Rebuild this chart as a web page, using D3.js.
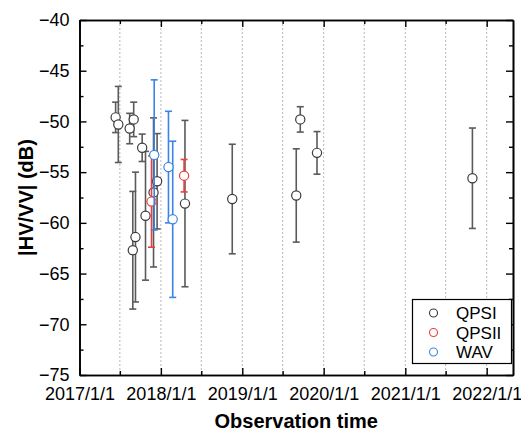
<!DOCTYPE html>
<html>
<head>
<meta charset="utf-8">
<script src="https://cdn.jsdelivr.net/npm/d3@7"></script>
<style>
    body { margin: 0; background: #fff; }
    svg { font-family: 'Liberation Sans', Arial, sans-serif; }
</style>
</head>
<body>
<svg width="521" height="432"></svg>
<script>

    // QPSI
    let qpsiDates  = ['2017-06-12', '2017-06-24', '2017-08-14', '2017-08-28', '2017-09-01', '2017-09-09',
                      '2017-10-09', '2017-10-24', '2017-11-29', '2017-12-15', '2018-04-19', '2018-11-17',
                      '2019-08-31', '2019-09-18', '2019-12-02', '2021-10-29'];
    let qpsiValues = [-49.6, -50.3, -50.7, -62.7, -49.8, -61.4, -52.6, -59.3, -57.0, -55.9, -58.1, -57.65,
                      -57.3, -49.8, -53.1, -55.6];
    let qpsiErrors = [1.5, 3.75, 1.5, 5.8, 1.7, 6.4, 1.35, 6.35, 7.35, 4.7, 8.2, 5.4, 4.6, 1.25, 2.1, 4.95];

    // QPSII
    let qpsiiDates  = ['2017-11-20', '2018-04-15'];
    let qpsiiValues = [-57.9, -55.35];
    let qpsiiErrors = [4.5, 1.6];

    // WAV
    let wavDates  = ['2017-12-02', '2018-02-04', '2018-02-23'];
    let wavValues = [-53.3, -54.5, -59.65];
    let wavErrors = [7.4, 5.5, 7.7];

    let yTicks = [-40, -45, -50, -55, -60, -65, -70, -75];
    let xTickLabels = ['2017-01-01', '2018-01-01', '2019-01-01', '2020-01-01', '2021-01-01', '2022-01-01'];


    let svg = d3.select('svg');
    let margin = { top: 20, right: 8, bottom: 57, left: 79.5 };
    let width = +svg.attr('width');
    let height = +svg.attr('height');

    let parse = d3.timeParse('%Y-%m-%d');

    let x = d3.scaleTime()
        .domain([parse('2017-01-01'), parse('2022-04-29')])
        .range([margin.left, width - margin.right]);

    let y = d3.scaleLinear()
        .domain([-75, -40])
        .range([height - margin.bottom, margin.top]);

    let series = [
        { name: 'QPSI',  dates: qpsiDates,  values: qpsiValues,  errors: qpsiErrors,  bar: '#5a5a5a', dot: '#3a3a3a' },
        { name: 'QPSII', dates: qpsiiDates, values: qpsiiValues, errors: qpsiiErrors, bar: '#e8413b', dot: '#e8413b' },
        { name: 'WAV',   dates: wavDates,   values: wavValues,   errors: wavErrors,   bar: '#3a84e6', dot: '#3a84e6' }
    ];

    // half-year dotted grid
    let halfYears = d3.timeMonth.every(6).range(parse('2017-06-30'), parse('2022-04-29'));
    svg.append('g')
        .selectAll('line')
        .data(halfYears)
        .enter().append('line')
        .attr('x1', d => x(d)).attr('x2', d => x(d))
        .attr('y1', y(-40)).attr('y2', y(-75))
        .attr('stroke', '#b8b8b8')
        .attr('stroke-width', 1)
        .attr('stroke-dasharray', '2,2');

    series.forEach(s => {
        let pts = s.dates.map((d, i) => ({ date: parse(d), v: s.values[i], e: s.errors[i] }));
        let g = svg.append('g');

        let bar = g.selectAll('g.bar')
            .data(pts)
            .enter().append('g')
            .attr('class', 'bar')
            .attr('stroke', s.bar)
            .attr('stroke-width', 1.6);

        bar.append('line')
            .attr('x1', d => x(d.date)).attr('x2', d => x(d.date))
            .attr('y1', d => y(d.v + d.e)).attr('y2', d => y(d.v - d.e));
        bar.append('line')
            .attr('x1', d => x(d.date) - 3.5).attr('x2', d => x(d.date) + 3.5)
            .attr('y1', d => y(d.v + d.e)).attr('y2', d => y(d.v + d.e));
        bar.append('line')
            .attr('x1', d => x(d.date) - 3.5).attr('x2', d => x(d.date) + 3.5)
            .attr('y1', d => y(d.v - d.e)).attr('y2', d => y(d.v - d.e));

        g.selectAll('circle')
            .data(pts)
            .enter().append('circle')
            .attr('cx', d => x(d.date))
            .attr('cy', d => y(d.v))
            .attr('r', 4.6)
            .attr('fill', '#fff')
            .attr('stroke', s.dot)
            .attr('stroke-width', 1.2);
    });

    // axes, ticks drawn inward on all four sides
    let xMajor = xTickLabels.map(parse);
    let xMinor = halfYears.filter(d => d.getMonth() === 6);
    let fmt = d3.timeFormat('%Y/%-m/%-d');

    svg.append('g')
        .attr('transform', 'translate(0,' + y(-75) + ')')
        .call(d3.axisBottom(x).tickValues(xMajor).tickFormat(fmt).tickSizeInner(-7).tickSizeOuter(0).tickPadding(12));
    svg.append('g')
        .attr('transform', 'translate(0,' + y(-75) + ')')
        .call(d3.axisBottom(x).tickValues(xMinor).tickFormat('').tickSizeInner(-4).tickSizeOuter(0));

    svg.append('g')
        .attr('transform', 'translate(0,' + y(-40) + ')')
        .call(d3.axisTop(x).tickValues(xMajor).tickFormat('').tickSizeInner(-7).tickSizeOuter(0));
    svg.append('g')
        .attr('transform', 'translate(0,' + y(-40) + ')')
        .call(d3.axisTop(x).tickValues(xMinor).tickFormat('').tickSizeInner(-4).tickSizeOuter(0));

    let minorY = d3.range(-72.5, -40, 5);

    svg.append('g')
        .attr('transform', 'translate(' + x.range()[0] + ',0)')
        .call(d3.axisLeft(y).tickValues(yTicks).tickFormat(d => d3.format('d')(d).replace('-', '\u2212'))
            .tickSizeInner(-7).tickSizeOuter(0).tickPadding(10));
    svg.append('g')
        .attr('transform', 'translate(' + x.range()[0] + ',0)')
        .call(d3.axisLeft(y).tickValues(minorY).tickFormat('').tickSizeInner(-4).tickSizeOuter(0));

    svg.append('g')
        .attr('transform', 'translate(' + x.range()[1] + ',0)')
        .call(d3.axisRight(y).tickValues(yTicks).tickFormat('').tickSizeInner(-7).tickSizeOuter(0));
    svg.append('g')
        .attr('transform', 'translate(' + x.range()[1] + ',0)')
        .call(d3.axisRight(y).tickValues(minorY).tickFormat('').tickSizeInner(-4).tickSizeOuter(0));

    svg.selectAll('.tick line').attr('stroke', '#000').attr('stroke-width', 1.4);
    svg.selectAll('.domain').attr('stroke', '#000').attr('stroke-width', 1.6);
    svg.selectAll('.tick text').attr('font-size', 18).attr('fill', '#000')
        .attr('font-family', "'Liberation Sans', Arial, sans-serif");

    // titles
    svg.append('text')
        .attr('x', (x.range()[0] + x.range()[1]) / 2)
        .attr('y', 428)
        .attr('text-anchor', 'middle')
        .attr('font-size', 20)
        .attr('font-weight', 'bold')
        .text('Observation time');

    svg.append('text')
        .attr('transform', 'translate(33,' + ((y(-40) + y(-75)) / 2) + ') rotate(-90)')
        .attr('text-anchor', 'middle')
        .attr('font-size', 20)
        .attr('font-weight', 'bold')
        .text('|HV/VV| (dB)');

    // legend
    let legend = svg.append('g').attr('transform', 'translate(412.5,299.5)');
    legend.append('rect')
        .attr('width', 99).attr('height', 64)
        .attr('fill', '#fff')
        .attr('stroke', '#000')
        .attr('stroke-width', 1.2);

    let item = legend.selectAll('g.item')
        .data(series)
        .enter().append('g')
        .attr('class', 'item')
        .attr('transform', (d, i) => 'translate(0,' + (13.5 + i * 19.5) + ')');
    item.append('circle')
        .attr('cx', 21).attr('r', 4)
        .attr('fill', '#fff')
        .attr('stroke', d => d.dot)
        .attr('stroke-width', 1.1);
    item.append('text')
        .attr('x', 43.5).attr('dy', '0.36em')
        .attr('font-size', 17)
        .text(d => d.name);

</script>
</body>
</html>
